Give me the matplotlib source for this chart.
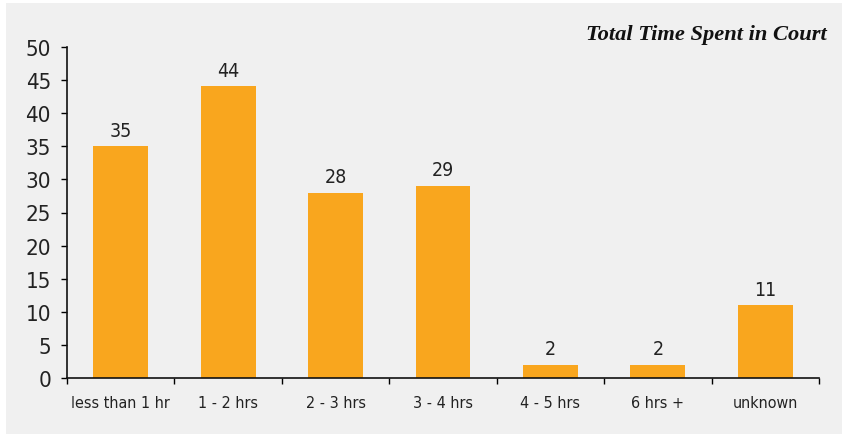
import matplotlib
matplotlib.use("Agg")
import matplotlib.pyplot as plt
from matplotlib.patches import Rectangle

categories = ["less than 1 hr", "1 - 2 hrs", "2 - 3 hrs", "3 - 4 hrs",
              "4 - 5 hrs", "6 hrs +", "unknown"]
counts = [35, 44, 28, 29, 2, 2, 11]
y_ticks = [0, 5, 10, 15, 20, 25, 30, 35, 40, 45, 50]
title = "Total Time Spent in Court"

bar_color = "#F9A61E"
panel_color = "#F0F0F0"
text_color = "#222222"
narrow = dict(family="DejaVu Sans", stretch="condensed", color=text_color)

W, H = 842, 435
fig = plt.figure(figsize=(W / 100, H / 100), dpi=100, facecolor="white")

# grey panel behind everything, with a thin white margin top/left
fig.patches.append(Rectangle((6 / W, 0), 1 - 6 / W, 1 - 4 / H,
                             transform=fig.transFigure, facecolor=panel_color,
                             edgecolor="none", zorder=-10))

ax = fig.add_axes([67 / W, 1 - 379.3 / H, (819 - 67) / W, (379.3 - 47.7) / H])
ax.set_facecolor("none")
ax.set_zorder(1)

x = list(range(len(categories)))
bars = ax.bar(x, counts, width=0.51, color=bar_color, zorder=2)

for rect, v in zip(bars, counts):
    ax.text(rect.get_x() + rect.get_width() / 2, v + 1.0, str(v),
            ha="center", va="bottom", fontsize=14, **narrow)

ax.set_xlim(-0.5, len(categories) - 0.5)
ax.set_ylim(0, 50)
ax.set_yticks(y_ticks)
ax.set_yticklabels([str(t) for t in y_ticks], fontsize=16, **narrow)

# category labels sit between ticks that mark the category boundaries
ax.set_xticks([i - 0.5 for i in range(len(categories) + 1)])
ax.set_xticklabels([])
ax.set_xticks(x, minor=True)
ax.set_xticklabels(categories, minor=True, fontsize=11.5, **narrow)
ax.tick_params(axis="x", which="minor", length=0, pad=12)
ax.tick_params(axis="x", which="major", length=4.5, width=1, direction="out")
ax.tick_params(axis="y", length=4.5, width=1, direction="out", pad=7)

for side in ("top", "right"):
    ax.spines[side].set_visible(False)
for side in ("left", "bottom"):
    ax.spines[side].set_linewidth(1.2)
    ax.spines[side].set_color("#111111")

fig.text(827 / W, 1 - 35 / H, title, ha="right", va="center",
         family=["Liberation Serif", "DejaVu Serif"], style="italic",
         weight="bold", fontsize=16.2, color="#111111")

fig.savefig("out.png", dpi=100, facecolor=fig.get_facecolor())
